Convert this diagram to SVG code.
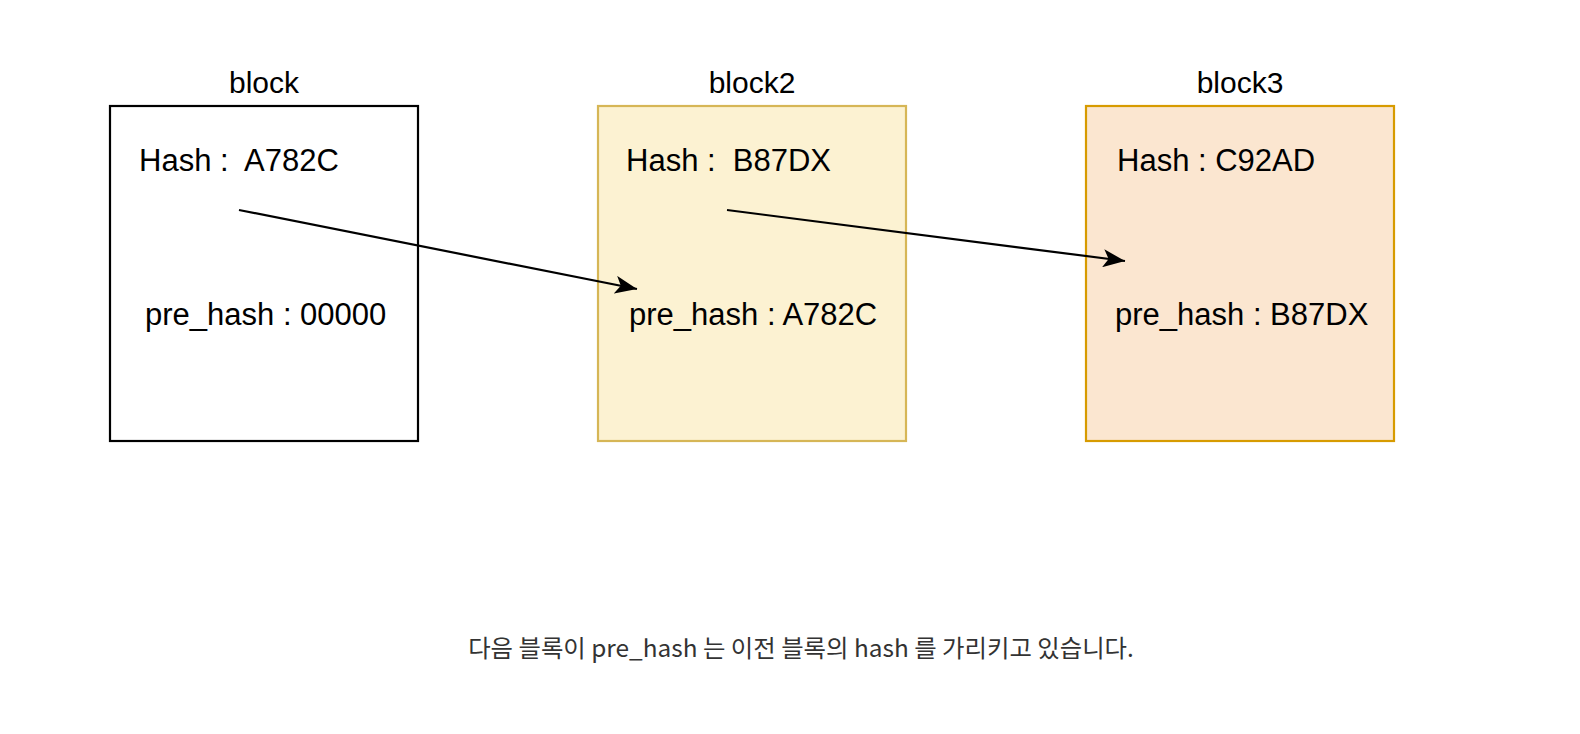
<svg xmlns="http://www.w3.org/2000/svg" width="1580" height="734" viewBox="0 0 1580 734">
<style>
.t{font-family:"Liberation Sans",Arial,sans-serif;font-size:31px;fill:#000}
.title{text-anchor:middle;font-size:30px}
.cap{font-family:"Noto Sans CJK KR","Noto Sans",sans-serif;font-size:24.4px;fill:#333;text-anchor:middle}
.edge{stroke:#000;stroke-width:2.2;fill:none}
</style>
<defs>
<marker id="arr" viewBox="0 0 22 18" refX="22" refY="9" markerWidth="22" markerHeight="18" markerUnits="userSpaceOnUse" orient="auto">
<path d="M0,0 L22,9 L0,18 L5.5,9 Z" fill="#000"/>
</marker>
</defs>
<rect width="1580" height="734" fill="#fff"/>
<g id="block1">
<rect x="110" y="106" width="308" height="335" fill="#fff" stroke="#000" stroke-width="2.2"/>
<text class="t title" x="264" y="93">block</text>
<text class="t" x="139" y="171" xml:space="preserve">Hash :  A782C</text>
<text class="t" x="145" y="325">pre_hash : 00000</text>
</g>
<g id="block2">
<rect x="598" y="106" width="308" height="335" fill="#fcf2d2" stroke="#d6b656" stroke-width="2.2"/>
<text class="t title" x="752" y="93">block2</text>
<text class="t" x="626" y="171" xml:space="preserve">Hash :  B87DX</text>
<text class="t" x="629" y="325">pre_hash : A782C</text>
</g>
<g id="block3">
<rect x="1086" y="106" width="308" height="335" fill="#fbe6d0" stroke="#d79b00" stroke-width="2.2"/>
<text class="t title" x="1240" y="93">block3</text>
<text class="t" x="1117" y="171">Hash : C92AD</text>
<text class="t" x="1115" y="325">pre_hash : B87DX</text>
</g>
<g id="connectors">
<line class="edge" x1="239" y1="210" x2="637" y2="289" marker-end="url(#arr)"/>
<line class="edge" x1="727" y1="210" x2="1125" y2="261" marker-end="url(#arr)"/>
</g>
<text class="cap" x="801" y="657">다음 블록이 pre_hash 는 이전 블록의 hash 를 가리키고 있습니다.</text>
</svg>
